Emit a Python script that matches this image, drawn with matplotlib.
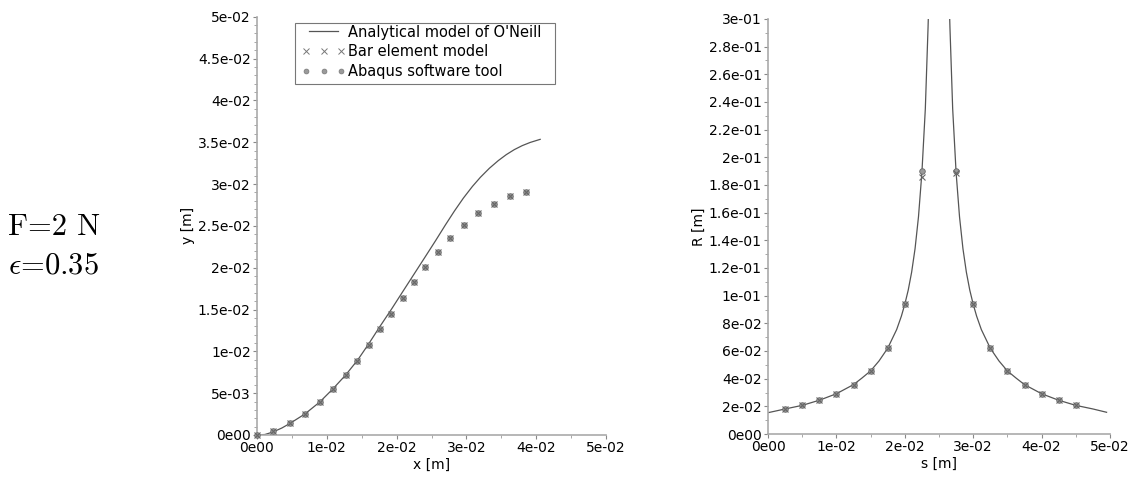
import matplotlib
matplotlib.use("Agg")
import matplotlib.pyplot as plt
from matplotlib.ticker import FuncFormatter, MultipleLocator
from matplotlib.lines import Line2D
from matplotlib.patches import Rectangle
from matplotlib.legend_handler import HandlerLine2D

# ---------------- data ----------------
# Left panel: deformed shape y(x)
oneill_x = [0.0, 0.00114, 0.00229, 0.00357, 0.00471, 0.00686, 0.00900, 0.01086,
            0.01271, 0.01443, 0.01600, 0.01757, 0.01929, 0.02086, 0.02243, 0.02400,
            0.02557, 0.02700, 0.02829, 0.02957, 0.03086, 0.03200, 0.03329, 0.03457,
            0.03571, 0.03686, 0.03800, 0.03914, 0.04057]
oneill_y = [0.0, 0.00006, 0.00036, 0.00084, 0.00138, 0.00251, 0.00395, 0.00550,
            0.00718, 0.00897, 0.01089, 0.01292, 0.01507, 0.01711, 0.01914, 0.02117,
            0.02321, 0.02512, 0.02678, 0.02832, 0.02971, 0.03080, 0.03188, 0.03280,
            0.03351, 0.03411, 0.03459, 0.03497, 0.03534]

bar_x = [0.0, 0.00233, 0.00471, 0.00686, 0.00900, 0.01090, 0.01271, 0.01439,
         0.01604, 0.01757, 0.01924, 0.02090, 0.02247, 0.02414, 0.02590, 0.02771,
         0.02971, 0.03171, 0.03390, 0.03629, 0.03861]
bar_y = [0.0, 0.00051, 0.00140, 0.00255, 0.00395, 0.00547, 0.00714, 0.00889,
         0.01080, 0.01272, 0.01447, 0.01639, 0.01825, 0.02010, 0.02193, 0.02353,
         0.02508, 0.02652, 0.02760, 0.02851, 0.02899]
abaqus_x = list(bar_x)
abaqus_y = list(bar_y)

# Right panel: radius of curvature R(s)
oneill_s_left = [0.0, 0.0025, 0.005, 0.0075, 0.01, 0.0125, 0.0137, 0.015, 0.01623,
                 0.0175, 0.01881, 0.0195, 0.02, 0.0205, 0.021, 0.0215, 0.022,
                 0.0225, 0.023, 0.0234, 0.02355]
oneill_R_left = [0.0154, 0.0181, 0.0207, 0.0244, 0.0291, 0.0357, 0.0403, 0.0456, 0.0528,
                 0.0620, 0.0755, 0.0852, 0.0938, 0.1040, 0.1170, 0.1340, 0.1570,
                 0.1890, 0.2350, 0.2940, 0.3200]
oneill_s_right = [0.02645, 0.0266, 0.027, 0.0275, 0.028, 0.0285, 0.029, 0.0295, 0.0300,
                  0.0305, 0.03119, 0.0325, 0.03377, 0.035, 0.0363, 0.0375, 0.04,
                  0.0425, 0.045, 0.0475, 0.0495]
oneill_R_right = [0.3200, 0.2940, 0.2350, 0.1890, 0.1570, 0.1340, 0.1170, 0.1040, 0.0938,
                  0.0852, 0.0755, 0.0620, 0.0528, 0.0456, 0.0403, 0.0357, 0.0291,
                  0.0244, 0.0207, 0.0181, 0.0157]

bar_s = [0.0025, 0.005, 0.0075, 0.01, 0.0125, 0.015, 0.0175, 0.02, 0.0225,
         0.0275, 0.03, 0.0325, 0.035, 0.0375, 0.04, 0.0425, 0.045]
bar_R = [0.0181, 0.0207, 0.0244, 0.0291, 0.0357, 0.0456, 0.0620, 0.0938, 0.186,
         0.189, 0.0938, 0.0620, 0.0456, 0.0357, 0.0291, 0.0244, 0.0207]
abaqus_s = list(bar_s)
abaqus_R = [0.0181, 0.0207, 0.0244, 0.0291, 0.0357, 0.0456, 0.0620, 0.0938, 0.190,
            0.190, 0.0938, 0.0620, 0.0456, 0.0357, 0.0291, 0.0244, 0.0207]

legend_labels = ["Analytical model of O'Neill", "Bar element model", "Abaqus software tool"]
annot_lines = ["F=2 N", r"$\epsilon$=0.35"]

# ---------------- styling ----------------
plt.rcParams['font.family'] = ['DejaVu Sans']
plt.rcParams['mathtext.fontset'] = 'cm'
plt.rcParams['font.size'] = 10

LINE_C = '#555555'
SPINE_C = '#aaaaaa'
W, H = 1139, 479


def sci(v, pos=None):
    if abs(v) < 1e-12:
        return '0e00'
    m, e = '{:.6e}'.format(v).split('e')
    m = m.rstrip('0').rstrip('.')
    e = int(e)
    es = ('-%02d' % (-e)) if e < 0 else ('%02d' % e)
    return m + 'e' + es


def style_axes(ax):
    for sp in ('top', 'right'):
        ax.spines[sp].set_visible(False)
    for sp in ('left', 'bottom'):
        ax.spines[sp].set_color(SPINE_C)
        ax.spines[sp].set_linewidth(1.2)
    ax.tick_params(which='major', length=3, width=0.8, color='#888888', pad=1.5)
    ax.tick_params(which='minor', length=2, width=0.6, color='#999999')
    ax.xaxis.set_major_formatter(FuncFormatter(sci))
    ax.yaxis.set_major_formatter(FuncFormatter(sci))


fig = plt.figure(figsize=(W / 100, H / 100), dpi=100)

# left panel
ax1 = fig.add_axes([257 / W, 1 - 435 / H, (606 - 257) / W, (435 - 16.7) / H])
ax1.plot(oneill_x, oneill_y, color=LINE_C, lw=0.9, zorder=2)
ax1.plot(abaqus_x, abaqus_y, ls='none', marker='o', ms=4, mfc='#9a9a9a', mec='#666666',
         mew=0.6, zorder=3, clip_on=False)
ax1.plot(bar_x, bar_y, ls='none', marker='x', ms=5, mec='#666666', mew=0.8, zorder=4,
         clip_on=False)
ax1.set_xlim(0, 0.05)
ax1.set_ylim(0, 0.05)
ax1.xaxis.set_major_locator(MultipleLocator(0.01))
ax1.xaxis.set_minor_locator(MultipleLocator(0.005))
ax1.yaxis.set_major_locator(MultipleLocator(0.005))
ax1.yaxis.set_minor_locator(MultipleLocator(0.001))
style_axes(ax1)
ax1.set_xlabel('x [m]', labelpad=2)
ax1.set_ylabel('y [m]', labelpad=2)

h_line = Line2D([], [], color=LINE_C, lw=0.9)
h_bar = Line2D([], [], ls='none', marker='x', ms=4, mec='#777777', mew=0.7)
h_abq = Line2D([], [], ls='none', marker='o', ms=3.5, mfc='#9a9a9a', mec='#777777', mew=0.5)
leg = fig.legend([h_line, h_bar, h_abq], legend_labels, loc='upper left',
                 bbox_to_anchor=(305 / W, 1 - 24.5 / H),
                 numpoints=3, handlelength=2.55, handletextpad=0.38,
                 frameon=False, borderpad=0, labelspacing=0.33, borderaxespad=0,
                 fontsize=10.5,
                 handler_map={h_bar: HandlerLine2D(marker_pad=0.05, numpoints=3),
                              h_abq: HandlerLine2D(marker_pad=0.05, numpoints=3)})
fig.patches.append(Rectangle((295 / W, 1 - 84 / H), 260 / W, 61 / H, fill=False,
                             edgecolor='#777777', lw=0.8, transform=fig.transFigure,
                             figure=fig))

# right panel
ax2 = fig.add_axes([768 / W, 1 - 434 / H, (1110 - 768) / W, (434 - 19) / H])
ax2.plot(oneill_s_left, oneill_R_left, color=LINE_C, lw=0.9, zorder=2)
ax2.plot(oneill_s_right, oneill_R_right, color=LINE_C, lw=0.9, zorder=2)
ax2.plot(abaqus_s, abaqus_R, ls='none', marker='o', ms=4, mfc='#9a9a9a', mec='#666666',
         mew=0.6, zorder=3)
ax2.plot(bar_s, bar_R, ls='none', marker='x', ms=5, mec='#666666', mew=0.8, zorder=4)
ax2.set_xlim(0, 0.05)
ax2.set_ylim(0, 0.30)
ax2.xaxis.set_major_locator(MultipleLocator(0.01))
ax2.xaxis.set_minor_locator(MultipleLocator(0.005))
ax2.yaxis.set_major_locator(MultipleLocator(0.02))
ax2.yaxis.set_minor_locator(MultipleLocator(0.01))
style_axes(ax2)
ax2.set_xlabel('s [m]', labelpad=2)
ax2.set_ylabel('R [m]', labelpad=2)

# annotation
fig.text(8 / W, 1 - 235 / H, annot_lines[0], fontsize=22, family='cmr10',
         ha='left', va='baseline')
fig.text(8 / W, 1 - 273 / H, annot_lines[1], fontsize=22, family='cmr10',
         ha='left', va='baseline')

fig.savefig('out.png', dpi=100)
